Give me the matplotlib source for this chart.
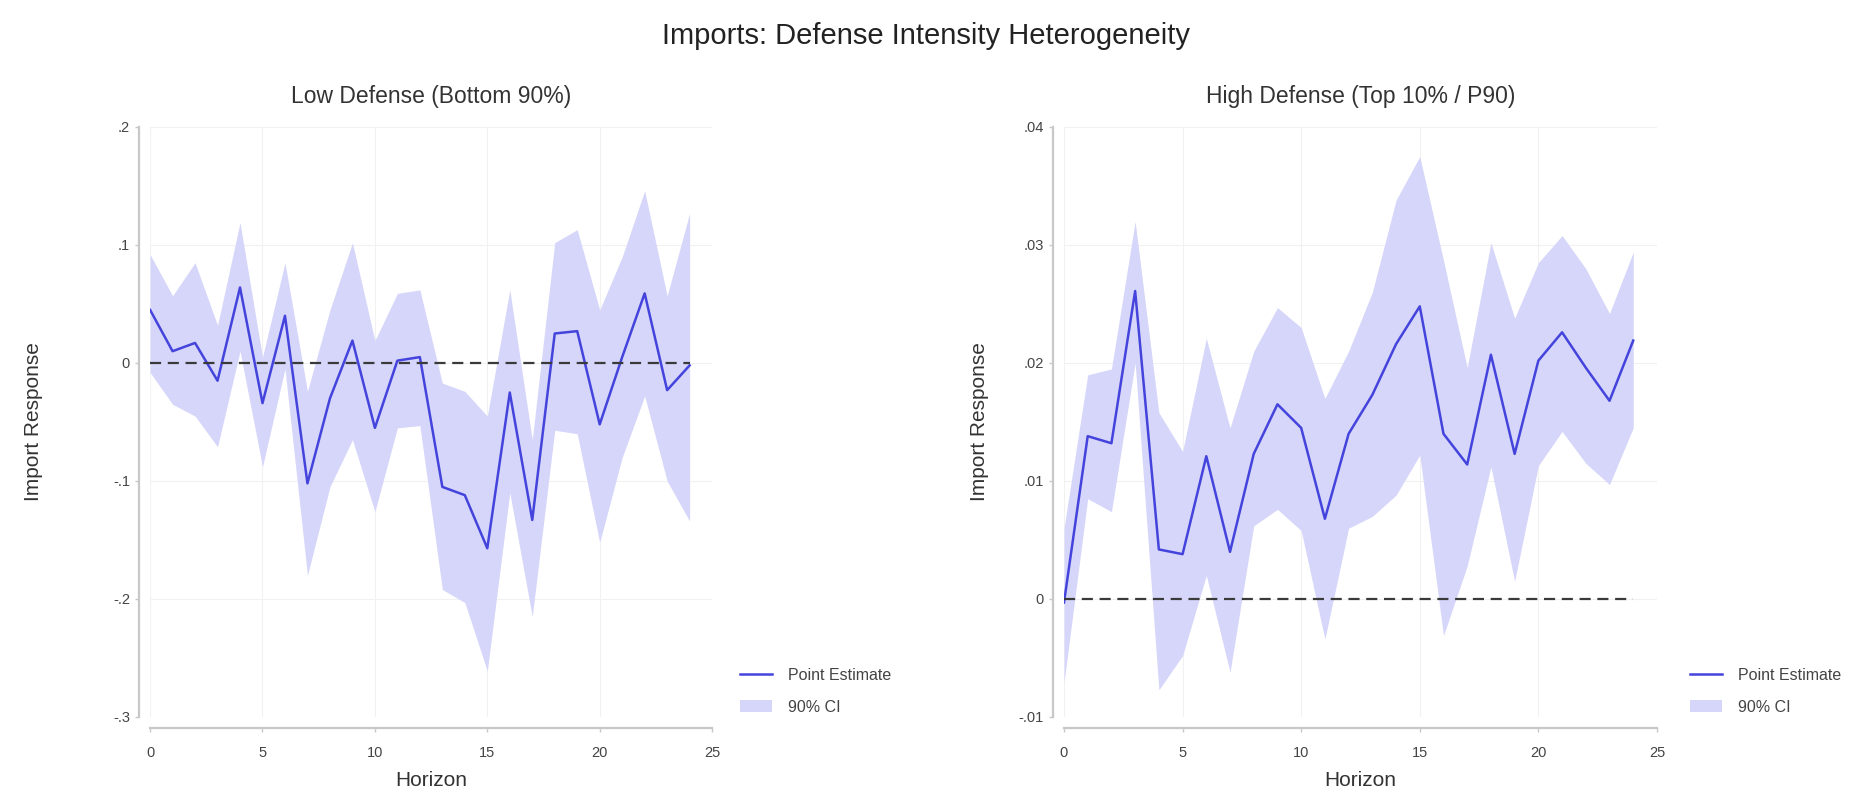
import matplotlib
matplotlib.use("Agg")
import matplotlib.pyplot as plt
from matplotlib.lines import Line2D
from matplotlib.patches import Patch
from matplotlib.ticker import FuncFormatter

plt.rcParams['font.family'] = ['Liberation Sans', 'DejaVu Sans']

# horizons
horizon = list(range(25))

# low defense (bottom 90%)
low_est = [0.045, 0.010, 0.017, -0.015, 0.064, -0.034, 0.040, -0.102, -0.030, 0.019,
           -0.055, 0.002, 0.005, -0.105, -0.112, -0.157, -0.025, -0.133, 0.025, 0.027,
           -0.052, 0.005, 0.059, -0.023, -0.002]
low_hi = [0.092, 0.057, 0.085, 0.032, 0.119, 0.005, 0.085, -0.024, 0.045, 0.102,
          0.019, 0.059, 0.062, -0.017, -0.024, -0.045, 0.062, -0.065, 0.102, 0.113,
          0.045, 0.090, 0.146, 0.057, 0.127]
low_lo = [-0.008, -0.035, -0.045, -0.071, 0.010, -0.088, -0.005, -0.180, -0.105, -0.065,
          -0.126, -0.055, -0.053, -0.192, -0.203, -0.261, -0.110, -0.215, -0.057, -0.060,
          -0.152, -0.080, -0.028, -0.100, -0.134]

# high defense (top 10% / p90)
high_est = [-0.0003, 0.0138, 0.0132, 0.0261, 0.0042, 0.0038, 0.0121, 0.0040, 0.0123, 0.0165,
            0.0145, 0.0068, 0.0140, 0.0173, 0.0216, 0.0248, 0.0140, 0.0114, 0.0207, 0.0123,
            0.0202, 0.0226, 0.0196, 0.0168, 0.0219]
high_hi = [0.0060, 0.0190, 0.0195, 0.0320, 0.0158, 0.0125, 0.0221, 0.0145, 0.0210, 0.0247,
           0.0230, 0.0170, 0.0210, 0.0260, 0.0338, 0.0375, 0.0287, 0.0196, 0.0302, 0.0238,
           0.0285, 0.0308, 0.0280, 0.0242, 0.0294]
high_lo = [-0.0071, 0.0085, 0.0074, 0.0200, -0.0077, -0.0048, 0.0020, -0.0062, 0.0062, 0.0076,
           0.0058, -0.0034, 0.0060, 0.0070, 0.0088, 0.0122, -0.0031, 0.0028, 0.0112, 0.0015,
           0.0113, 0.0142, 0.0115, 0.0097, 0.0145]

low_yticks = [-0.3, -0.2, -0.1, 0.0, 0.1, 0.2]
high_yticks = [-0.01, 0.0, 0.01, 0.02, 0.03, 0.04]
xticks = [0, 5, 10, 15, 20, 25]

line_col = '#4444dd'
fill_col = '#d6d6fa'
spine_col = '#c8c8c8'
text_col = '#333333'


def stata_fmt(v, pos):
    s = f"{v:g}"
    if abs(v) < 1e-12:
        return "0"
    return s.replace("0.", ".")


def draw_panel(ax, est, lo, hi, yticks, title, legend_x, ylab_x):
    ax.fill_between(horizon, lo, hi, color=fill_col, lw=0, zorder=1)
    ax.plot(horizon, est, color=line_col, lw=1.8, zorder=3)
    ax.plot(horizon, [0] * len(horizon), color='#3a3a3a', lw=1.6,
            dashes=(5, 3), zorder=4)

    ax.set_xlim(0, 25)
    ax.set_ylim(yticks[0], yticks[-1])
    ax.set_xticks(xticks)
    ax.set_yticks(yticks)
    ax.yaxis.set_major_formatter(FuncFormatter(stata_fmt))
    ax.grid(True, color='#f1f1f1', lw=0.8, zorder=0)
    ax.set_axisbelow(True)

    for side in ['top', 'right']:
        ax.spines[side].set_visible(False)
    for side in ['left', 'bottom']:
        ax.spines[side].set_color(spine_col)
        ax.spines[side].set_linewidth(1.6)
        ax.spines[side].set_position(('outward', 8))
    ax.spines['left'].set_bounds(yticks[0], yticks[-1])
    ax.spines['bottom'].set_bounds(0, 25)

    ax.tick_params(colors=spine_col, labelcolor='#444444', labelsize=10.5,
                   length=3, width=1)
    ax.tick_params(axis='x', pad=10)
    ax.set_xlabel("Horizon", fontsize=15, color=text_col, va='center')
    ax.xaxis.set_label_coords(0.5, -0.108)
    ax.set_ylabel("Import Response", fontsize=15, color=text_col, va='center')
    ax.yaxis.set_label_coords(ylab_x, 0.5)
    ax.set_title(title, fontsize=16.5, color=text_col, pad=17)

    handles = [Line2D([], [], color=line_col, lw=1.8),
               Patch(color=fill_col, lw=0)]
    ax.legend(handles, ["Point Estimate", "90% CI"], loc='center left',
              bbox_to_anchor=(legend_x, 0.136), bbox_transform=fig.transFigure,
              frameon=False, fontsize=11.5, handlelength=2.0, handletextpad=1.0,
              labelspacing=1.05, borderpad=0, borderaxespad=0,
              labelcolor='#444444')


fig = plt.figure(figsize=(18.53, 8.0), dpi=100)
ax1 = fig.add_axes([0.0810, 0.10375, 0.3033, 0.7375])
ax2 = fig.add_axes([0.5742, 0.10375, 0.3200, 0.7375])

draw_panel(ax1, low_est, low_lo, low_hi, low_yticks,
           "Low Defense (Bottom 90%)", 0.3993, -0.208)
draw_panel(ax2, high_est, high_lo, high_hi, high_yticks,
           "High Defense (Top 10% / P90)", 0.912, -0.1417)

fig.suptitle("Imports: Defense Intensity Heterogeneity", fontsize=21,
             color='#222222', y=0.972)

fig.savefig("out.png", dpi=100)
